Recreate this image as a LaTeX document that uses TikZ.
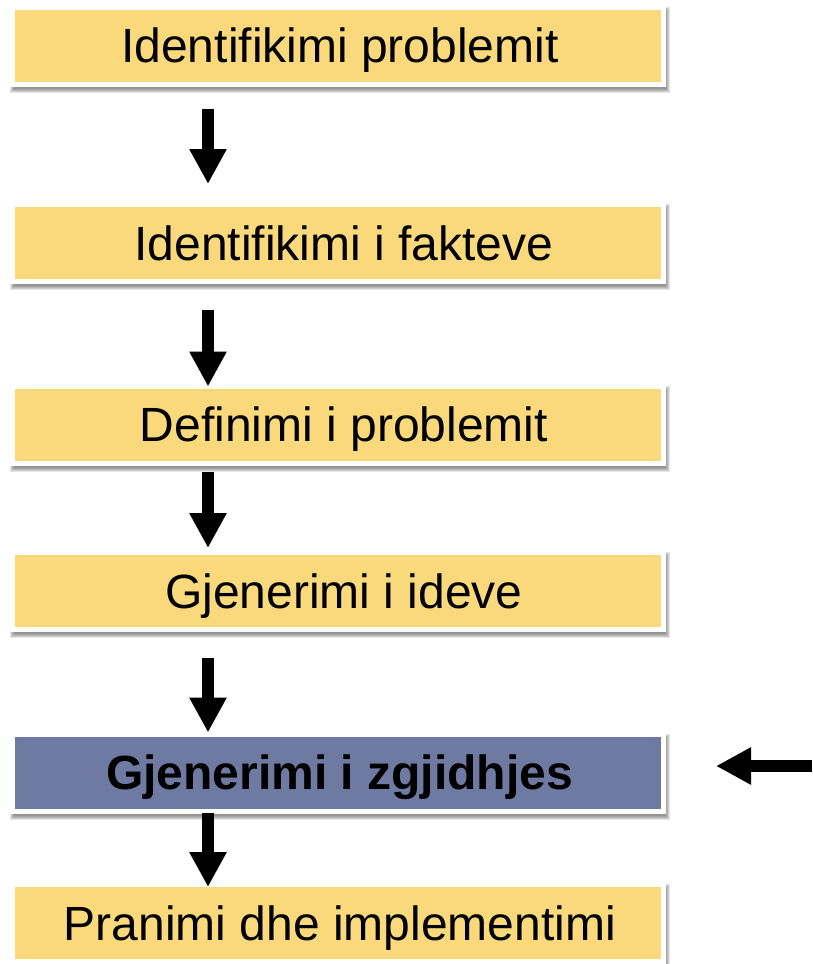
\documentclass[tikz,border=0pt]{standalone}
\usepackage{fontspec}
\setmainfont{Liberation Sans}
\usetikzlibrary{arrows.meta,backgrounds}
\definecolor{boxyellow}{RGB}{250,217,125}
\definecolor{boxblue}{RGB}{111,122,163}
\tikzset{
  stepbox/.style={minimum width=646pt, minimum height=72pt, inner sep=0pt, outer sep=0pt,
    text height=34pt, text depth=0pt, font=\fontsize{48}{57}\selectfont, fill=boxyellow},
  hibox/.style={stepbox, fill=boxblue, font=\fontsize{48}{57}\selectfont\bfseries},
  bigarrow/.style={line width=12pt, -{Triangle[width=35pt,length=35pt]}},
}
\newcommand{\myboxframe}[1]{%
  \foreach \k in {0,1,2,3,4}{%
    \fill[black,opacity=0.1] ([shift={({-1pt-\k pt},{-1pt+\k pt})}]#1.north west)
      rectangle ([shift={({5pt+\k pt},{-7pt-\k pt})}]#1.south east);
  }
  \fill[white] ([shift={(-5pt,5pt)}]#1.north west) rectangle ([shift={(5pt,-5pt)}]#1.south east);
}
\begin{document}
\begin{tikzpicture}[x=1pt,y=-1pt]
  \useasboundingbox (0,0) rectangle (813,964);
  \node[stepbox] (b1) at (338,45.5) {\hspace{4pt}Identifikimi problemit};
  \node[stepbox] (b2) at (338,243) {\hspace{12pt}Identifikimi i fakteve};
  \node[stepbox] (b3) at (338,424.5) {\hspace{12pt}Definimi i problemit};
  \node[stepbox] (b4) at (338,591) {\hspace{12pt}Gjenerimi i ideve};
  \node[hibox] (b5) at (338,772.5) {\hspace{3pt}Gjenerimi i zgjidhjes};
  \node[stepbox] (b6) at (338,923) {\hspace{4pt}Pranimi dhe implementimi};
  \begin{scope}[on background layer]
    \fill[white] (0,0) rectangle (813,964);
    \myboxframe{b1}\myboxframe{b2}\myboxframe{b3}\myboxframe{b4}\myboxframe{b5}\myboxframe{b6}
  \end{scope}
  \coordinate (ax) at (208,0);
  \draw[bigarrow, shorten <=27pt, shorten >=23pt] (b1.south -| ax) -- (b2.north -| ax);
  \draw[bigarrow, shorten <=31pt, shorten >=2pt] (b2.south -| ax) -- (b3.north -| ax);
  \draw[bigarrow, shorten <=11pt, shorten >=7pt] (b3.south -| ax) -- (b4.north -| ax);
  \draw[bigarrow, shorten <=31pt, shorten >=4pt] (b4.south -| ax) -- (b5.north -| ax);
  \draw[bigarrow, shorten <=4pt, shorten >=0pt] (b5.south -| ax) -- (b6.north -| ax);
  \coordinate (hin) at (812,766);
  \draw[bigarrow, shorten >=55pt] (hin) -- (hin -| b5.east);
\end{tikzpicture}
\end{document}
